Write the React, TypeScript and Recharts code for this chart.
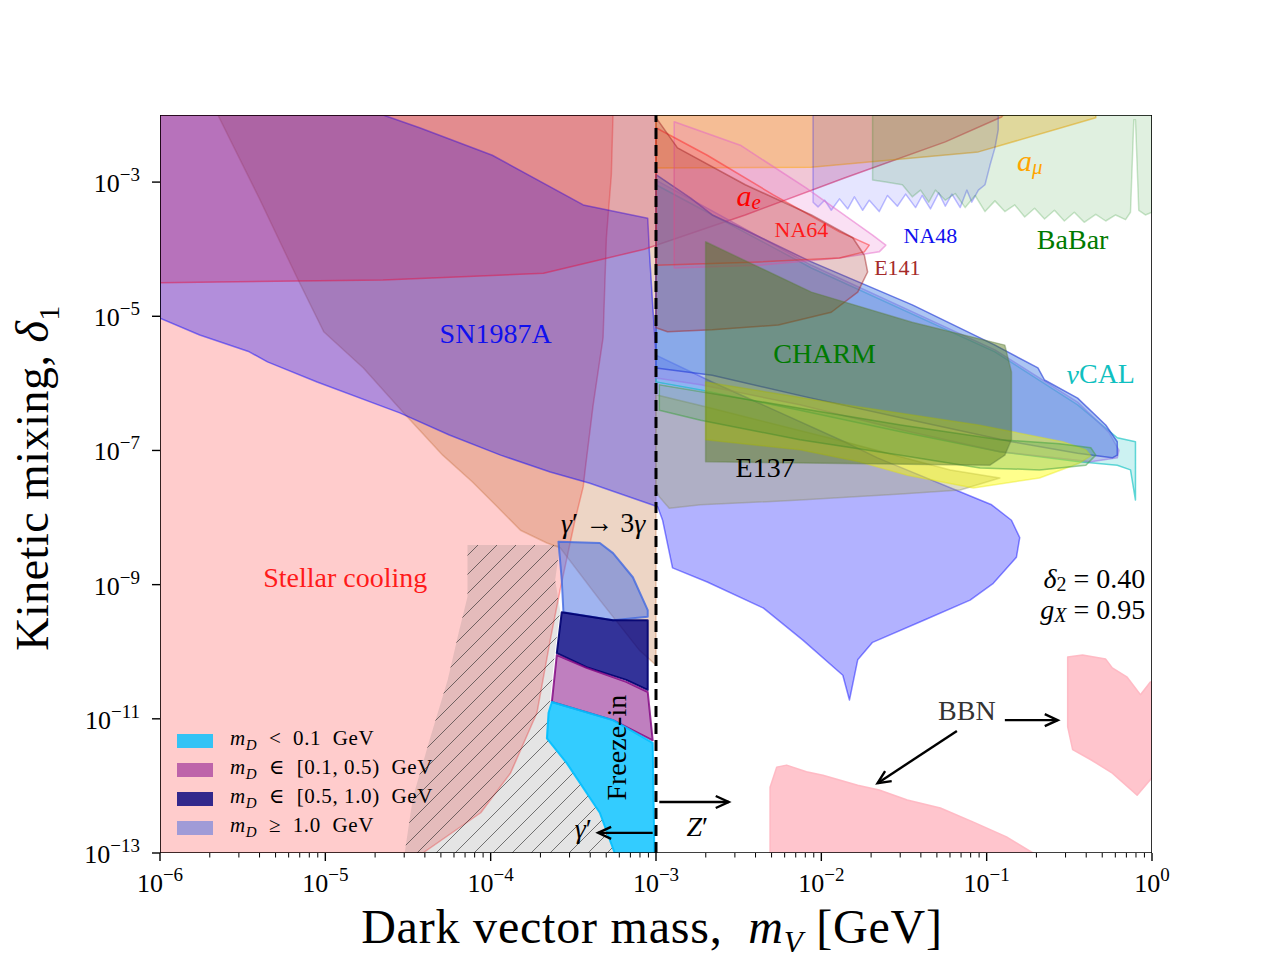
import React from "react";
import { ComposedChart, Scatter, XAxis, YAxis } from "recharts";

const FONT = "'Liberation Serif', 'DejaVu Serif', serif";

type P = [number, number];

// every point is [log10(m_V / GeV), log10(delta_1)]
const stellarCooling: P[] = [
  [-6, -2], [-3.26, -2], [-3.27, -2.89], [-3.3, -3.83], [-3.32, -5.32], [-3.38, -6.32],
  [-3.43, -7.32], [-3.44, -7.54], [-3.49, -8.04], [-3.58, -9.08], [-3.64, -9.83],
  [-3.72, -10.91], [-3.88, -11.81], [-4.06, -12.4], [-4.41, -13], [-6, -13],
];

const photonDecay: P[] = [
  [-5.65, -2], [-3, -2], [-3, -10.2], [-3.1, -9.98], [-3.34, -9.23], [-3.58, -8.45],
  [-3.66, -8.38], [-3.82, -8.19], [-3.96, -7.84], [-4.11, -7.47], [-4.29, -7.07],
  [-4.53, -6.43], [-4.77, -5.77], [-5.01, -5.23], [-5.17, -4.43], [-5.4, -3.24],
];

const hatched: P[] = [
  [-4.14, -8.41], [-3.58, -8.41], [-3.61, -8.93], [-3.58, -9.38], [-3.61, -9.97],
  [-3.64, -10.72], [-3.65, -11.32], [-3.54, -11.66], [-3.34, -12.4], [-3.25, -13],
  [-4.52, -13], [-4.47, -12.17], [-4.37, -11.32], [-4.26, -10.42], [-4.19, -9.68], [-4.14, -9.18],
];

const sn1987a: P[] = [
  [-6, -2], [-4.65, -2], [-4.43, -2.19], [-3.99, -2.6], [-3.44, -3.34], [-3.05, -3.54],
  [-3.04, -4.04], [-3.02, -4.83], [-3, -5.58], [-2.66, -5.98], [-1.86, -6.87], [-1.66, -7.11],
  [-0.97, -7.81], [-0.85, -8.04], [-0.8, -8.3], [-0.82, -8.59], [-0.96, -8.98], [-1.1, -9.23],
  [-1.38, -9.53], [-1.69, -9.86], [-1.78, -10.12], [-1.83, -10.72], [-1.87, -10.35],
  [-2.11, -9.83], [-2.35, -9.35], [-2.69, -8.96], [-2.9, -8.75], [-2.96, -8.04], [-2.99, -7.84],
  [-3.4, -7.49], [-3.64, -7.32], [-3.94, -7.07], [-4.25, -6.77], [-4.55, -6.44], [-5.05, -5.98],
  [-5.35, -5.68], [-5.46, -5.53], [-5.76, -5.28], [-6, -5.03],
];

const electronG2: P[] = [
  [-6, -2], [-0.9, -2], [-0.91, -2.03], [-1.25, -2.4], [-1.86, -2.94], [-2.46, -3.49],
  [-3.07, -4.0], [-3.68, -4.36], [-4.65, -4.46], [-6, -4.5],
];

const muonG2: P[] = [
  [-3, -2], [-0.34, -2], [-0.34, -2.04], [-1.05, -2.55], [-2.06, -2.78], [-3, -2.79],
];

const na48: P[] = [
  [-0.93, -2], [-0.93, -2.22], [-0.95, -2.49], [-0.98, -2.75], [-1.01, -3.04], [-1.05, -3.12],
  [-1.09, -3.3], [-1.12, -3.12], [-1.16, -3.38], [-1.21, -3.18], [-1.25, -3.36], [-1.29, -3.16],
  [-1.34, -3.4], [-1.39, -3.2], [-1.43, -3.38], [-1.49, -3.18], [-1.54, -3.36], [-1.6, -3.2],
  [-1.65, -3.44], [-1.71, -3.27], [-1.75, -3.42], [-1.8, -3.22], [-1.84, -3.4], [-1.89, -3.25],
  [-1.94, -3.42], [-1.98, -3.27], [-2.02, -3.37], [-2.05, -3.3], [-2.05, -2],
];

const babar: P[] = [
  [-1.69, -2], [-1.69, -2.97], [-1.61, -3.0], [-1.51, -3.04], [-1.45, -3.22], [-1.4, -3.12],
  [-1.35, -3.3], [-1.31, -3.12], [-1.25, -3.27], [-1.19, -3.17], [-1.13, -3.38], [-1.07, -3.2],
  [-1.01, -3.44], [-0.95, -3.28], [-0.89, -3.44], [-0.83, -3.34], [-0.77, -3.52], [-0.71, -3.39],
  [-0.65, -3.55], [-0.59, -3.42], [-0.53, -3.58], [-0.47, -3.45], [-0.41, -3.6], [-0.34, -3.48],
  [-0.28, -3.58], [-0.22, -3.49], [-0.16, -3.56], [-0.13, -3.45], [-0.11, -2.07], [-0.1, -2.07],
  [-0.08, -3.42], [-0.04, -3.49], [0, -3.45], [0, -2],
];

const e141: P[] = [
  [-3, -2.04], [-2.87, -2.49], [-2.46, -3.04], [-2.06, -3.49], [-1.81, -3.83], [-1.74, -4.09],
  [-1.72, -4.34], [-1.78, -4.64], [-1.94, -4.94], [-2.26, -5.13], [-2.66, -5.2], [-2.93, -5.23], [-3, -5.17],
];

const na64Outer: P[] = [
  [-2.89, -2.1], [-2.49, -2.45], [-2.09, -3.09], [-1.69, -3.79], [-1.61, -3.94], [-1.65, -4.04],
  [-1.89, -4.13], [-2.37, -4.24], [-2.89, -4.28],
];

const na64Inner: P[] = [
  [-3, -2.19], [-2.69, -2.6], [-2.29, -3.19], [-1.89, -3.74], [-1.71, -3.94], [-1.74, -4.04],
  [-1.89, -4.13], [-2.37, -4.19], [-3, -4.24],
];

const nuCal: P[] = [
  [-3, -3.04], [-2.06, -4.28], [-0.95, -5.53], [-0.45, -6.32], [-0.21, -6.81], [-0.1, -6.87],
  [-0.1, -7.74], [-0.13, -7.29], [-0.21, -7.22], [-0.44, -7.17], [-0.92, -7.02], [-1.52, -6.72],
  [-2.13, -6.4], [-2.73, -6.1], [-3, -5.98],
];

const violetBand: P[] = [
  [-3, -2.97], [-2.06, -4.24], [-0.95, -5.5], [-0.45, -6.28], [-0.26, -6.73], [-0.2, -7.0],
  [-0.21, -7.11], [-0.37, -7.17], [-0.92, -7.02], [-1.52, -6.69], [-2.13, -6.32], [-2.73, -6.02], [-3, -5.92],
];

const blueBand: P[] = [
  [-3, -2.89], [-2.79, -3.24], [-2.66, -3.49], [-2.49, -3.68], [-2.06, -4.19], [-1.45, -4.83],
  [-0.95, -5.43], [-0.69, -5.77], [-0.65, -5.95], [-0.45, -6.22], [-0.28, -6.62], [-0.21, -6.87],
  [-0.21, -7.07], [-0.24, -7.11], [-0.45, -7.04], [-0.85, -6.87], [-1.45, -6.55], [-2.06, -6.22],
  [-2.66, -5.88], [-3, -5.77],
];

const e137: P[] = [
  [-3, -6.17], [-2.7, -6.35], [-1.86, -6.87], [-1.22, -7.29], [-0.92, -7.41], [-1.16, -7.59],
  [-1.52, -7.65], [-2.13, -7.74], [-2.73, -7.81], [-2.92, -7.86], [-2.98, -7.69], [-3, -7.59],
];

const yellowBand: P[] = [
  [-2.7, -5.98], [-1.86, -6.32], [-1.05, -6.62], [-0.54, -6.87], [-0.4, -6.99], [-0.37, -7.08],
  [-0.44, -7.19], [-0.68, -7.41], [-1.08, -7.56], [-1.48, -7.37], [-1.77, -7.17], [-2.13, -6.99], [-2.7, -6.84],
];

const greenBand: P[] = [
  [-2.98, -6.02], [-2.13, -6.37], [-1.52, -6.62], [-0.92, -6.84], [-0.56, -6.9], [-0.37, -6.96],
  [-0.34, -7.07], [-0.4, -7.22], [-0.68, -7.29], [-1.04, -7.26], [-1.52, -7.07], [-2.13, -6.84],
  [-2.73, -6.55], [-2.98, -6.4],
];

const charm: P[] = [
  [-2.7, -3.89], [-2.06, -4.64], [-1.45, -5.09], [-0.89, -5.43], [-0.85, -5.83], [-0.85, -6.84],
  [-0.89, -7.07], [-0.98, -7.22], [-2.7, -7.17],
];

const bbnLow: P[] = [
  [-2.31, -13], [-2.31, -12.02], [-2.27, -11.72], [-2.21, -11.69], [-2.09, -11.79], [-1.99, -11.84],
  [-1.78, -11.99], [-1.65, -12.06], [-1.48, -12.21], [-1.28, -12.33], [-1.08, -12.54], [-0.88, -12.76], [-0.72, -13],
];

const bbnHigh: P[] = [
  [-0.51, -10.08], [-0.42, -10.05], [-0.28, -10.11], [-0.24, -10.24], [-0.15, -10.38], [-0.07, -10.64],
  [-0.01, -10.45], [0, -10.45], [0, -11.88], [-0.09, -12.14], [-0.24, -11.81], [-0.37, -11.61],
  [-0.48, -11.46], [-0.51, -11.12], [-0.51, -10.62],
];

// freeze-in contours for the four dark-matter mass bins
const fiHeavy: P[] = [
  [-3.59, -8.36], [-3.34, -8.38], [-3.26, -8.53], [-3.14, -8.89], [-3.05, -9.38], [-3.05, -9.48],
  [-3.26, -9.53], [-3.56, -9.41], [-3.57, -8.93],
];
const fiUpper: P[] = [
  [-3.57, -9.41], [-3.26, -9.53], [-3.05, -9.53], [-3.05, -10.57], [-3.18, -10.42], [-3.42, -10.23], [-3.6, -10.02],
];
const fiMiddle: P[] = [
  [-3.6, -10.05], [-3.42, -10.24], [-3.18, -10.45], [-3.05, -10.6], [-3.02, -11.32], [-3.26, -11.02], [-3.63, -10.75],
];
const fiLight: P[] = [
  [-3.63, -10.75], [-3.26, -11.02], [-3.02, -11.36], [-3.01, -13], [-3.25, -13], [-3.34, -12.4],
  [-3.54, -11.66], [-3.66, -11.29], [-3.65, -10.91],
];

const kinematicLine: P[] = [[-3, -13], [-3, -2]];
const frame: P[] = [[-6, -2], [0, -2], [0, -13], [-6, -13]];

const arrows: P[][] = [
  [[-1.18, -11.18], [-1.66, -11.96]],
  [[-0.89, -11.02], [-0.57, -11.02]],
  [[-2.98, -12.24], [-2.56, -12.24]],
  [[-3.02, -12.7], [-3.35, -12.7]],
];

const notes = [
  { key: "sn", x: -3.97, y: -5.26 },
  { key: "stellar", x: -4.88, y: -8.89 },
  { key: "ae", x: -2.44, y: -3.19 },
  { key: "na64", x: -2.12, y: -3.71 },
  { key: "e141", x: -1.54, y: -4.28 },
  { key: "na48", x: -1.34, y: -3.8 },
  { key: "babar", x: -0.48, y: -3.86 },
  { key: "amu", x: -0.74, y: -2.67 },
  { key: "charm", x: -1.98, y: -5.56 },
  { key: "nucal", x: -0.31, y: -5.86 },
  { key: "e137", x: -2.34, y: -7.26 },
  { key: "decay", x: -3.32, y: -8.08 },
  { key: "freeze", x: -3.24, y: -11.43 },
  { key: "gp", x: -3.44, y: -12.63 },
  { key: "zp", x: -2.75, y: -12.6 },
  { key: "bbn", x: -1.12, y: -10.88 },
  { key: "d2", x: -0.04, y: -8.9 },
  { key: "gx", x: -0.04, y: -9.36 },
];

const legendLabels = [
  { op: "<", range: "0.1" },
  { op: "\u2208", range: "[0.1, 0.5)" },
  { op: "\u2208", range: "[0.5, 1.0)" },
  { op: "\u2265", range: "1.0" },
];
const legendColors = ["#33c3f5", "#be64aa", "#32288c", "#a09bd7"];

const xMajor = [-6, -5, -4, -3, -2, -1, 0];
const xMinor: number[] = [];
for (let d = -6; d < 0; d++) for (let k = 2; k <= 9; k++) xMinor.push(d + Math.log10(k));
const yMajor = [-13, -11, -9, -7, -5, -3];

type Style = {
  fill: string;
  fo: number;
  stroke: string;
  so: number;
  sw?: number;
  hatch?: boolean;
  dash?: string;
  open?: boolean;
};

const polygon = (st: Style) => (props: any) => {
  const pts = (props.points || []).filter((p: any) => p && p.x != null && p.y != null);
  if (!pts.length) return <g />;
  const d = pts.map((p: any, i: number) => `${i ? "L" : "M"}${p.x},${p.y}`).join(" ") + (st.open ? "" : " Z");
  return (
    <g>
      {st.hatch && (
        <defs>
          <pattern id="hatch" width="19" height="19" patternUnits="userSpaceOnUse">
            <path d="M-2,2 L2,-2 M0,19 L19,0 M17,21 L21,17" stroke="#222" strokeWidth={0.8} strokeOpacity={0.75} />
          </pattern>
        </defs>
      )}
      <path
        d={d}
        fill={st.fill}
        fillOpacity={st.fo}
        stroke={st.stroke}
        strokeOpacity={st.so}
        strokeWidth={st.sw ?? 1.5}
        strokeDasharray={st.dash}
        strokeLinejoin="round"
      />
      {st.hatch && <path d={d} fill="url(#hatch)" stroke="none" />}
    </g>
  );
};

const arrowLine = (props: any) => {
  const [a, b] = props.points || [];
  if (!a || !b) return <g />;
  const ang = Math.atan2(b.y - a.y, b.x - a.x);
  const L = 13;
  const W = 6;
  const bx = b.x - L * Math.cos(ang);
  const by = b.y - L * Math.sin(ang);
  const p1 = `${bx + W * Math.sin(ang)},${by - W * Math.cos(ang)}`;
  const p2 = `${bx - W * Math.sin(ang)},${by + W * Math.cos(ang)}`;
  return (
    <g stroke="#000" strokeWidth={2.4} fill="none">
      <line x1={a.x} y1={a.y} x2={b.x} y2={b.y} />
      <polyline points={`${p1} ${b.x},${b.y} ${p2}`} />
    </g>
  );
};

const empty = () => <g />;

const it = (s: string) => <tspan fontStyle="italic">{s}</tspan>;

const noteStyles: Record<string, { color: string; size: number; anchor?: string; rotate?: number; content: React.ReactNode }> = {
  sn: { color: "#1010ee", size: 28, content: "SN1987A" },
  stellar: { color: "#ff1a1a", size: 28, content: "Stellar cooling" },
  ae: {
    color: "#ff0000",
    size: 30,
    content: (
      <>
        {it("a")}
        <tspan fontStyle="italic" fontSize={21} dy={7}>e</tspan>
      </>
    ),
  },
  na64: { color: "#ff1a1a", size: 22, content: "NA64" },
  e141: { color: "#a52a2a", size: 22, content: "E141" },
  na48: { color: "#1010ee", size: 22, content: "NA48" },
  babar: { color: "#007a00", size: 28, content: "BaBar" },
  amu: {
    color: "#ffa500",
    size: 30,
    content: (
      <>
        {it("a")}
        <tspan fontStyle="italic" fontSize={21} dy={7}>μ</tspan>
      </>
    ),
  },
  charm: { color: "#007a00", size: 28, content: "CHARM" },
  nucal: {
    color: "#10c0c0",
    size: 28,
    content: (
      <>
        {it("ν")}CAL
      </>
    ),
  },
  e137: { color: "#000", size: 28, content: "E137" },
  decay: {
    color: "#000",
    size: 28,
    content: (
      <>
        {it("γ")}′ → 3{it("γ")}
      </>
    ),
  },
  freeze: { color: "#000", size: 28, rotate: -90, content: "Freeze-in" },
  gp: { color: "#000", size: 28, content: <>{it("γ")}′</> },
  zp: { color: "#000", size: 28, content: <>{it("Z")}′</> },
  bbn: { color: "#333", size: 28, content: "BBN" },
  d2: {
    color: "#000",
    size: 28,
    anchor: "end",
    content: (
      <>
        {it("δ")}
        <tspan fontSize={20} dy={6}>2</tspan>
        <tspan dy={-6}> = 0.40</tspan>
      </>
    ),
  },
  gx: {
    color: "#000",
    size: 28,
    anchor: "end",
    content: (
      <>
        {it("g")}
        <tspan fontStyle="italic" fontSize={20} dy={6}>X</tspan>
        <tspan dy={-6}> = 0.95</tspan>
      </>
    ),
  },
};

const Note = (props: any) => {
  const { cx, cy, payload } = props;
  const st = noteStyles[payload.key];
  if (!st || cx == null) return <g />;
  return (
    <text
      x={cx}
      y={cy}
      fill={st.color}
      fontSize={st.size}
      fontFamily={FONT}
      textAnchor={st.anchor ?? "middle"}
      dominantBaseline="central"
      transform={st.rotate ? `rotate(${st.rotate} ${cx} ${cy})` : undefined}
    >
      {st.content}
    </text>
  );
};

const fmtPow = (v: number) => (v < 0 ? "\u2212" + Math.abs(v) : String(v));

const XTick = (props: any) => {
  const { x, y, payload } = props;
  const v = payload.value;
  const major = Math.abs(v - Math.round(v)) < 1e-9;
  return (
    <g>
      <line x1={x} x2={x} y1={y} y2={y + (major ? 8 : 4.5)} stroke="#000" strokeWidth={major ? 1.4 : 1} />
      {major && (
        <text x={x} y={y + 39} textAnchor="middle" fontSize={26} fontFamily={FONT} fill="#000">
          10
          <tspan dy={-11} fontSize={19}>{fmtPow(Math.round(v))}</tspan>
        </text>
      )}
    </g>
  );
};

const YTick = (props: any) => {
  const { x, y, payload } = props;
  const v = payload.value;
  return (
    <g>
      <line x1={x} x2={x - 8} y1={y} y2={y} stroke="#000" strokeWidth={1.4} />
      <text x={x - 20} y={y + 10} textAnchor="end" fontSize={26} fontFamily={FONT} fill="#000">
        10
        <tspan dy={-11} fontSize={19}>{fmtPow(v)}</tspan>
      </text>
    </g>
  );
};

const layers: { name: string; data: P[]; style: Style }[] = [
  { name: "stellar", data: stellarCooling, style: { fill: "#ff0000", fo: 0.2, stroke: "#ff0000", so: 0.3 } },
  { name: "decay", data: photonDecay, style: { fill: "#be6428", fo: 0.27, stroke: "#be6428", so: 0.3 } },
  { name: "hatched", data: hatched, style: { fill: "#787878", fo: 0.2, stroke: "none", so: 0, hatch: true } },
  { name: "sn", data: sn1987a, style: { fill: "#0000ff", fo: 0.3, stroke: "#0000ff", so: 0.45 } },
  { name: "ae", data: electronG2, style: { fill: "#c81e5a", fo: 0.25, stroke: "#dc1e50", so: 0.55 } },
  { name: "amu", data: muonG2, style: { fill: "#ffa500", fo: 0.3, stroke: "#ffa500", so: 0.5 } },
  { name: "na48", data: na48, style: { fill: "#0000ff", fo: 0.1, stroke: "#0000ff", so: 0.25 } },
  { name: "babar", data: babar, style: { fill: "#008000", fo: 0.12, stroke: "#008000", so: 0.2 } },
  { name: "nucal", data: nuCal, style: { fill: "#00bebe", fo: 0.2, stroke: "#00bebe", so: 0.6 } },
  { name: "violet", data: violetBand, style: { fill: "#9678e6", fo: 0.35, stroke: "#9678e6", so: 0.6 } },
  { name: "blue", data: blueBand, style: { fill: "#5a8ce6", fo: 0.5, stroke: "#2a40d8", so: 0.65 } },
  { name: "na64o", data: na64Outer, style: { fill: "#e664c8", fo: 0.2, stroke: "#e664c8", so: 0.5 } },
  { name: "na64i", data: na64Inner, style: { fill: "#ff2828", fo: 0.15, stroke: "#ff2828", so: 0.5 } },
  { name: "e141", data: e141, style: { fill: "#a52a2a", fo: 0.25, stroke: "#a52a2a", so: 0.5 } },
  { name: "e137", data: e137, style: { fill: "#aaaa6e", fo: 0.4, stroke: "#8a8a6e", so: 0.4 } },
  { name: "yellow", data: yellowBand, style: { fill: "#ffff00", fo: 0.45, stroke: "#e6e600", so: 0.4 } },
  { name: "green", data: greenBand, style: { fill: "#3ca03c", fo: 0.25, stroke: "#3ca03c", so: 0.5 } },
  { name: "charm", data: charm, style: { fill: "#4f730f", fo: 0.45, stroke: "#5a7a3c", so: 0.4 } },
  { name: "bbnLow", data: bbnLow, style: { fill: "#ffb6c1", fo: 0.8, stroke: "#ffb6c1", so: 0.9 } },
  { name: "bbnHigh", data: bbnHigh, style: { fill: "#ffb6c1", fo: 0.8, stroke: "#ffb6c1", so: 0.9 } },
  { name: "fiHeavy", data: fiHeavy, style: { fill: "#4169e1", fo: 0.5, stroke: "#4169e1", so: 0.8, sw: 2 } },
  { name: "fiUpper", data: fiUpper, style: { fill: "#000080", fo: 0.8, stroke: "#000070", so: 0.9, sw: 2 } },
  { name: "fiMiddle", data: fiMiddle, style: { fill: "#800080", fo: 0.5, stroke: "#800080", so: 0.8, sw: 2 } },
  { name: "fiLight", data: fiLight, style: { fill: "#00bfff", fo: 0.8, stroke: "#00bfff", so: 0.9, sw: 2 } },
  { name: "mV", data: kinematicLine, style: { fill: "none", fo: 0, stroke: "#000", so: 1, sw: 3, dash: "11 6", open: true } },
  { name: "frame", data: frame, style: { fill: "none", fo: 0, stroke: "#000", so: 1, sw: 1.6 } },
];

const toXY = (a: P[]) => a.map(([x, y]) => ({ x, y }));

const App = () => {
  return (
    <div style={{ position: "relative", width: 1264, height: 944, fontFamily: FONT }}>
      <ComposedChart
        width={1264}
        height={944}
        margin={{ top: 107, right: 120, bottom: 39, left: 72 }}
        style={{ fontFamily: FONT }}
      >
        <XAxis
          type="number"
          dataKey="x"
          domain={[-6, 0]}
          allowDataOverflow
          ticks={[...xMajor, ...xMinor].sort((a, b) => a - b)}
          interval={0}
          height={60}
          axisLine={false}
          tickLine={false}
          tickSize={0}
          tickMargin={0}
          tick={<XTick />}
        />
        <YAxis
          type="number"
          dataKey="y"
          domain={[-13, -2]}
          allowDataOverflow
          ticks={yMajor}
          interval={0}
          width={80}
          axisLine={false}
          tickLine={false}
          tickSize={0}
          tickMargin={0}
          tick={<YTick />}
        />
        {layers.map((l) => (
          <Scatter
            key={l.name}
            data={toXY(l.data)}
            line={polygon(l.style)}
            shape={empty}
            isAnimationActive={false}
            legendType="none"
          />
        ))}
        {arrows.map((a, i) => (
          <Scatter
            key={"arrow" + i}
            data={toXY(a)}
            line={arrowLine}
            shape={empty}
            isAnimationActive={false}
            legendType="none"
          />
        ))}
        <Scatter data={notes} shape={<Note />} isAnimationActive={false} legendType="none" />
      </ComposedChart>

      <div
        style={{
          position: "absolute",
          left: 28,
          top: 470,
          transform: "translate(-50%, -50%) rotate(-90deg)",
          fontSize: 46,
          whiteSpace: "nowrap",
          letterSpacing: 0.5,
        }}
      >
        Kinetic mixing, <i>δ</i>
        <sub style={{ fontSize: 30 }}>1</sub>
      </div>
      <div
        style={{
          position: "absolute",
          left: 644,
          top: 922,
          transform: "translate(-50%, -50%)",
          fontSize: 48,
          whiteSpace: "nowrap",
          letterSpacing: 0.8,
        }}
      >
        Dark vector mass,&nbsp;&nbsp;<i>m</i>
        <sub style={{ fontSize: 31, fontStyle: "italic" }}>V</sub> [GeV]
      </div>

      <div style={{ position: "absolute", left: 169, top: 718 }}>
        {legendLabels.map((l, i) => (
          <div key={i} style={{ display: "flex", alignItems: "center", height: 29 }}>
            <div style={{ width: 36, height: 14, background: legendColors[i], marginRight: 17 }} />
            <span style={{ fontSize: 21, whiteSpace: "nowrap", letterSpacing: 0.6 }}>
              <i>m</i>
              <sub style={{ fontSize: 15, fontStyle: "italic" }}>D</sub>
              &nbsp;&nbsp;{l.op}&nbsp;&nbsp;{l.range}&nbsp;&nbsp;GeV
            </span>
          </div>
        ))}
      </div>
    </div>
  );
};

export default App;
